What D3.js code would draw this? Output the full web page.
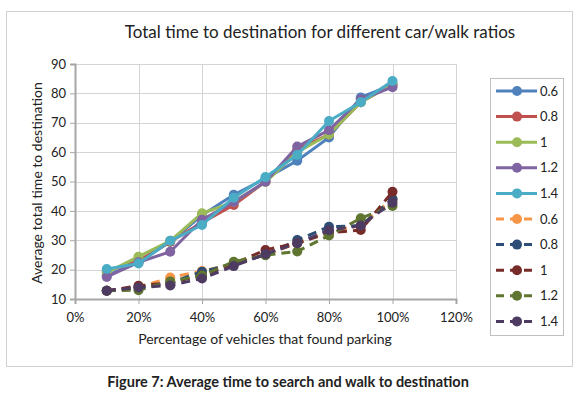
<!DOCTYPE html>
<html>
<head>
<meta charset="utf-8">
<script src="https://cdn.jsdelivr.net/npm/d3@7"></script>
<style>
  body { margin: 0; background: #fff; }
  text { font-family: Lato, "Open Sans", sans-serif; fill: #222; }
</style>
</head>
<body>
<div id="chart"></div>
<script>
// x values (share of vehicles that found parking)
var pct = [0.1, 0.2, 0.3, 0.4, 0.5, 0.6, 0.7, 0.8, 0.9, 1.0];

// series labels (car/walk ratio)
var ratios = ["0.6", "0.8", "1", "1.2", "1.4", "0.6", "0.8", "1", "1.2", "1.4"];

// solid lines
var s06 = [18.0, 22.5, 29.5, 38.5, 45.5, 51.0, 57.1, 65.0, 78.6, 83.0];
var s08 = [19.5, 23.0, 29.5, 36.0, 42.0, 50.0, 61.0, 66.0, 77.0, 83.0];
var s10 = [19.0, 24.4, 29.8, 39.2, 43.0, 49.8, 60.0, 66.0, 77.0, 83.0];
var s12 = [17.5, 22.5, 26.1, 37.0, 43.0, 49.9, 61.9, 67.5, 78.0, 82.1];
var s14 = [20.2, 22.1, 29.8, 35.2, 44.5, 51.5, 59.0, 70.6, 77.0, 84.2];

// dashed lines
var d06 = [12.8, 14.0, 17.3, 19.5, 22.0, 25.0, 29.0, 33.0, 35.0, 44.0];
var d08 = [12.8, 14.0, 15.5, 19.3, 22.0, 25.0, 30.1, 34.6, 35.0, 44.0];
var d10 = [12.8, 14.5, 15.5, 18.0, 22.0, 26.7, 29.0, 32.5, 33.5, 46.5];
var d12 = [12.8, 13.0, 16.0, 18.0, 22.7, 24.9, 26.2, 31.6, 37.5, 41.7];
var d14 = [12.8, 13.9, 14.6, 17.0, 21.2, 25.3, 29.0, 33.4, 35.0, 42.8];

var xTicks = [0, 0.2, 0.4, 0.6, 0.8, 1.0, 1.2];
var yTicks = [10, 20, 30, 40, 50, 60, 70, 80, 90];

var colors = ["#4f81bd", "#c0504d", "#9bbb59", "#8064a2", "#4bacc6",
              "#f79646", "#2c4d75", "#772c2a", "#5f7530", "#4d3b62"];

var series = [s06, s08, s10, s12, s14, d06, d08, d10, d12, d14].map(function (vals, i) {
    return {
        name: ratios[i],
        dashed: i >= 5,
        color: colors[i],
        points: vals.map(function (v, j) { return {x: pct[j], y: v}; })
    };
});

var W = 576, H = 395;
var svg = d3.select("#chart").append("svg")
    .attr("width", W)
    .attr("height", H);

// chart area border
svg.append("rect")
    .attr("x", 6.5).attr("y", 11.5)
    .attr("width", 566).attr("height", 355)
    .attr("fill", "#fff")
    .attr("stroke", "#d0d0d0");

var x = d3.scaleLinear().domain([0, 1.2]).range([75, 456]);
var y = d3.scaleLinear().domain([10, 90]).range([299, 64]);

// gridlines
svg.append("g").selectAll("line.hg")
    .data(yTicks.slice(1))
    .enter().append("line")
    .attr("x1", x(0)).attr("x2", x(1.2))
    .attr("y1", function (d) { return Math.round(y(d)) + 0.5; })
    .attr("y2", function (d) { return Math.round(y(d)) + 0.5; })
    .attr("stroke", "#d4d4d4");

svg.append("g").selectAll("line.vg")
    .data(xTicks.slice(1))
    .enter().append("line")
    .attr("y1", y(10)).attr("y2", y(90))
    .attr("x1", function (d) { return Math.round(x(d)) + 0.5; })
    .attr("x2", function (d) { return Math.round(x(d)) + 0.5; })
    .attr("stroke", "#d4d4d4");

// axes
var yAxis = svg.append("g")
    .attr("transform", "translate(" + x(0) + ",0)")
    .call(d3.axisLeft(y).tickValues(yTicks).tickSize(5).tickPadding(4));
var xAxis = svg.append("g")
    .attr("transform", "translate(0," + y(10) + ")")
    .call(d3.axisBottom(x).tickValues(xTicks).tickSize(5).tickPadding(9)
        .tickFormat(d3.format(".0%")));

[yAxis, xAxis].forEach(function (a) {
    a.select(".domain").attr("stroke", "#a6a6a6").attr("stroke-width", 2);
    a.selectAll(".tick line").attr("stroke", "#a6a6a6");
    a.selectAll(".tick text").attr("font-size", 13).attr("fill", "#222")
        .attr("font-family", "Lato, sans-serif");
});

// lines
var line = d3.line()
    .x(function (d) { return x(d.x); })
    .y(function (d) { return y(d.y); });

var g = svg.append("g").selectAll("g.series")
    .data(series)
    .enter().append("g");

g.append("path")
    .attr("d", function (d) { return line(d.points); })
    .attr("fill", "none")
    .attr("stroke", function (d) { return d.color; })
    .attr("stroke-width", 3)
    .attr("stroke-linejoin", "round")
    .attr("stroke-dasharray", function (d) { return d.dashed ? "9,6" : null; });

g.selectAll("circle")
    .data(function (d) { return d.points.map(function (p) { return {p: p, c: d.color}; }); })
    .enter().append("circle")
    .attr("cx", function (d) { return x(d.p.x); })
    .attr("cy", function (d) { return y(d.p.y); })
    .attr("r", 5)
    .attr("fill", function (d) { return d.c; });

// legend
var legend = svg.append("g");
legend.append("rect")
    .attr("x", 490.5).attr("y", 78.5)
    .attr("width", 73).attr("height", 257)
    .attr("fill", "#fff")
    .attr("stroke", "#bfbfbf");

var li = legend.selectAll("g.item")
    .data(series)
    .enter().append("g")
    .attr("transform", function (d, i) { return "translate(0," + (91 + i * 25.6) + ")"; });

li.append("line")
    .attr("x1", 496).attr("x2", 537)
    .attr("stroke", function (d) { return d.color; })
    .attr("stroke-width", 3)
    .attr("stroke-dasharray", function (d) { return d.dashed ? "8,6" : null; });
li.append("circle")
    .attr("cx", 517).attr("r", 5)
    .attr("fill", function (d) { return d.color; });
li.append("text")
    .attr("x", 540).attr("dy", "0.35em")
    .attr("font-size", 13)
    .text(function (d) { return d.name; });

// titles
svg.append("text")
    .attr("x", 320).attr("y", 38)
    .attr("text-anchor", "middle")
    .attr("font-size", 17)
    .text("Total time to destination for different car/walk ratios");

svg.append("text")
    .attr("transform", "translate(42,183) rotate(-90)")
    .attr("text-anchor", "middle")
    .attr("font-size", 14)
    .text("Average total time to destination");

svg.append("text")
    .attr("x", 265).attr("y", 344)
    .attr("text-anchor", "middle")
    .attr("font-size", 14)
    .text("Percentage of vehicles that found parking");

svg.append("text")
    .attr("x", 288).attr("y", 387)
    .attr("text-anchor", "middle")
    .attr("font-size", 14.5)
    .attr("font-weight", "bold")
    .text("Figure 7: Average time to search and walk to destination");
</script>
</body>
</html>
